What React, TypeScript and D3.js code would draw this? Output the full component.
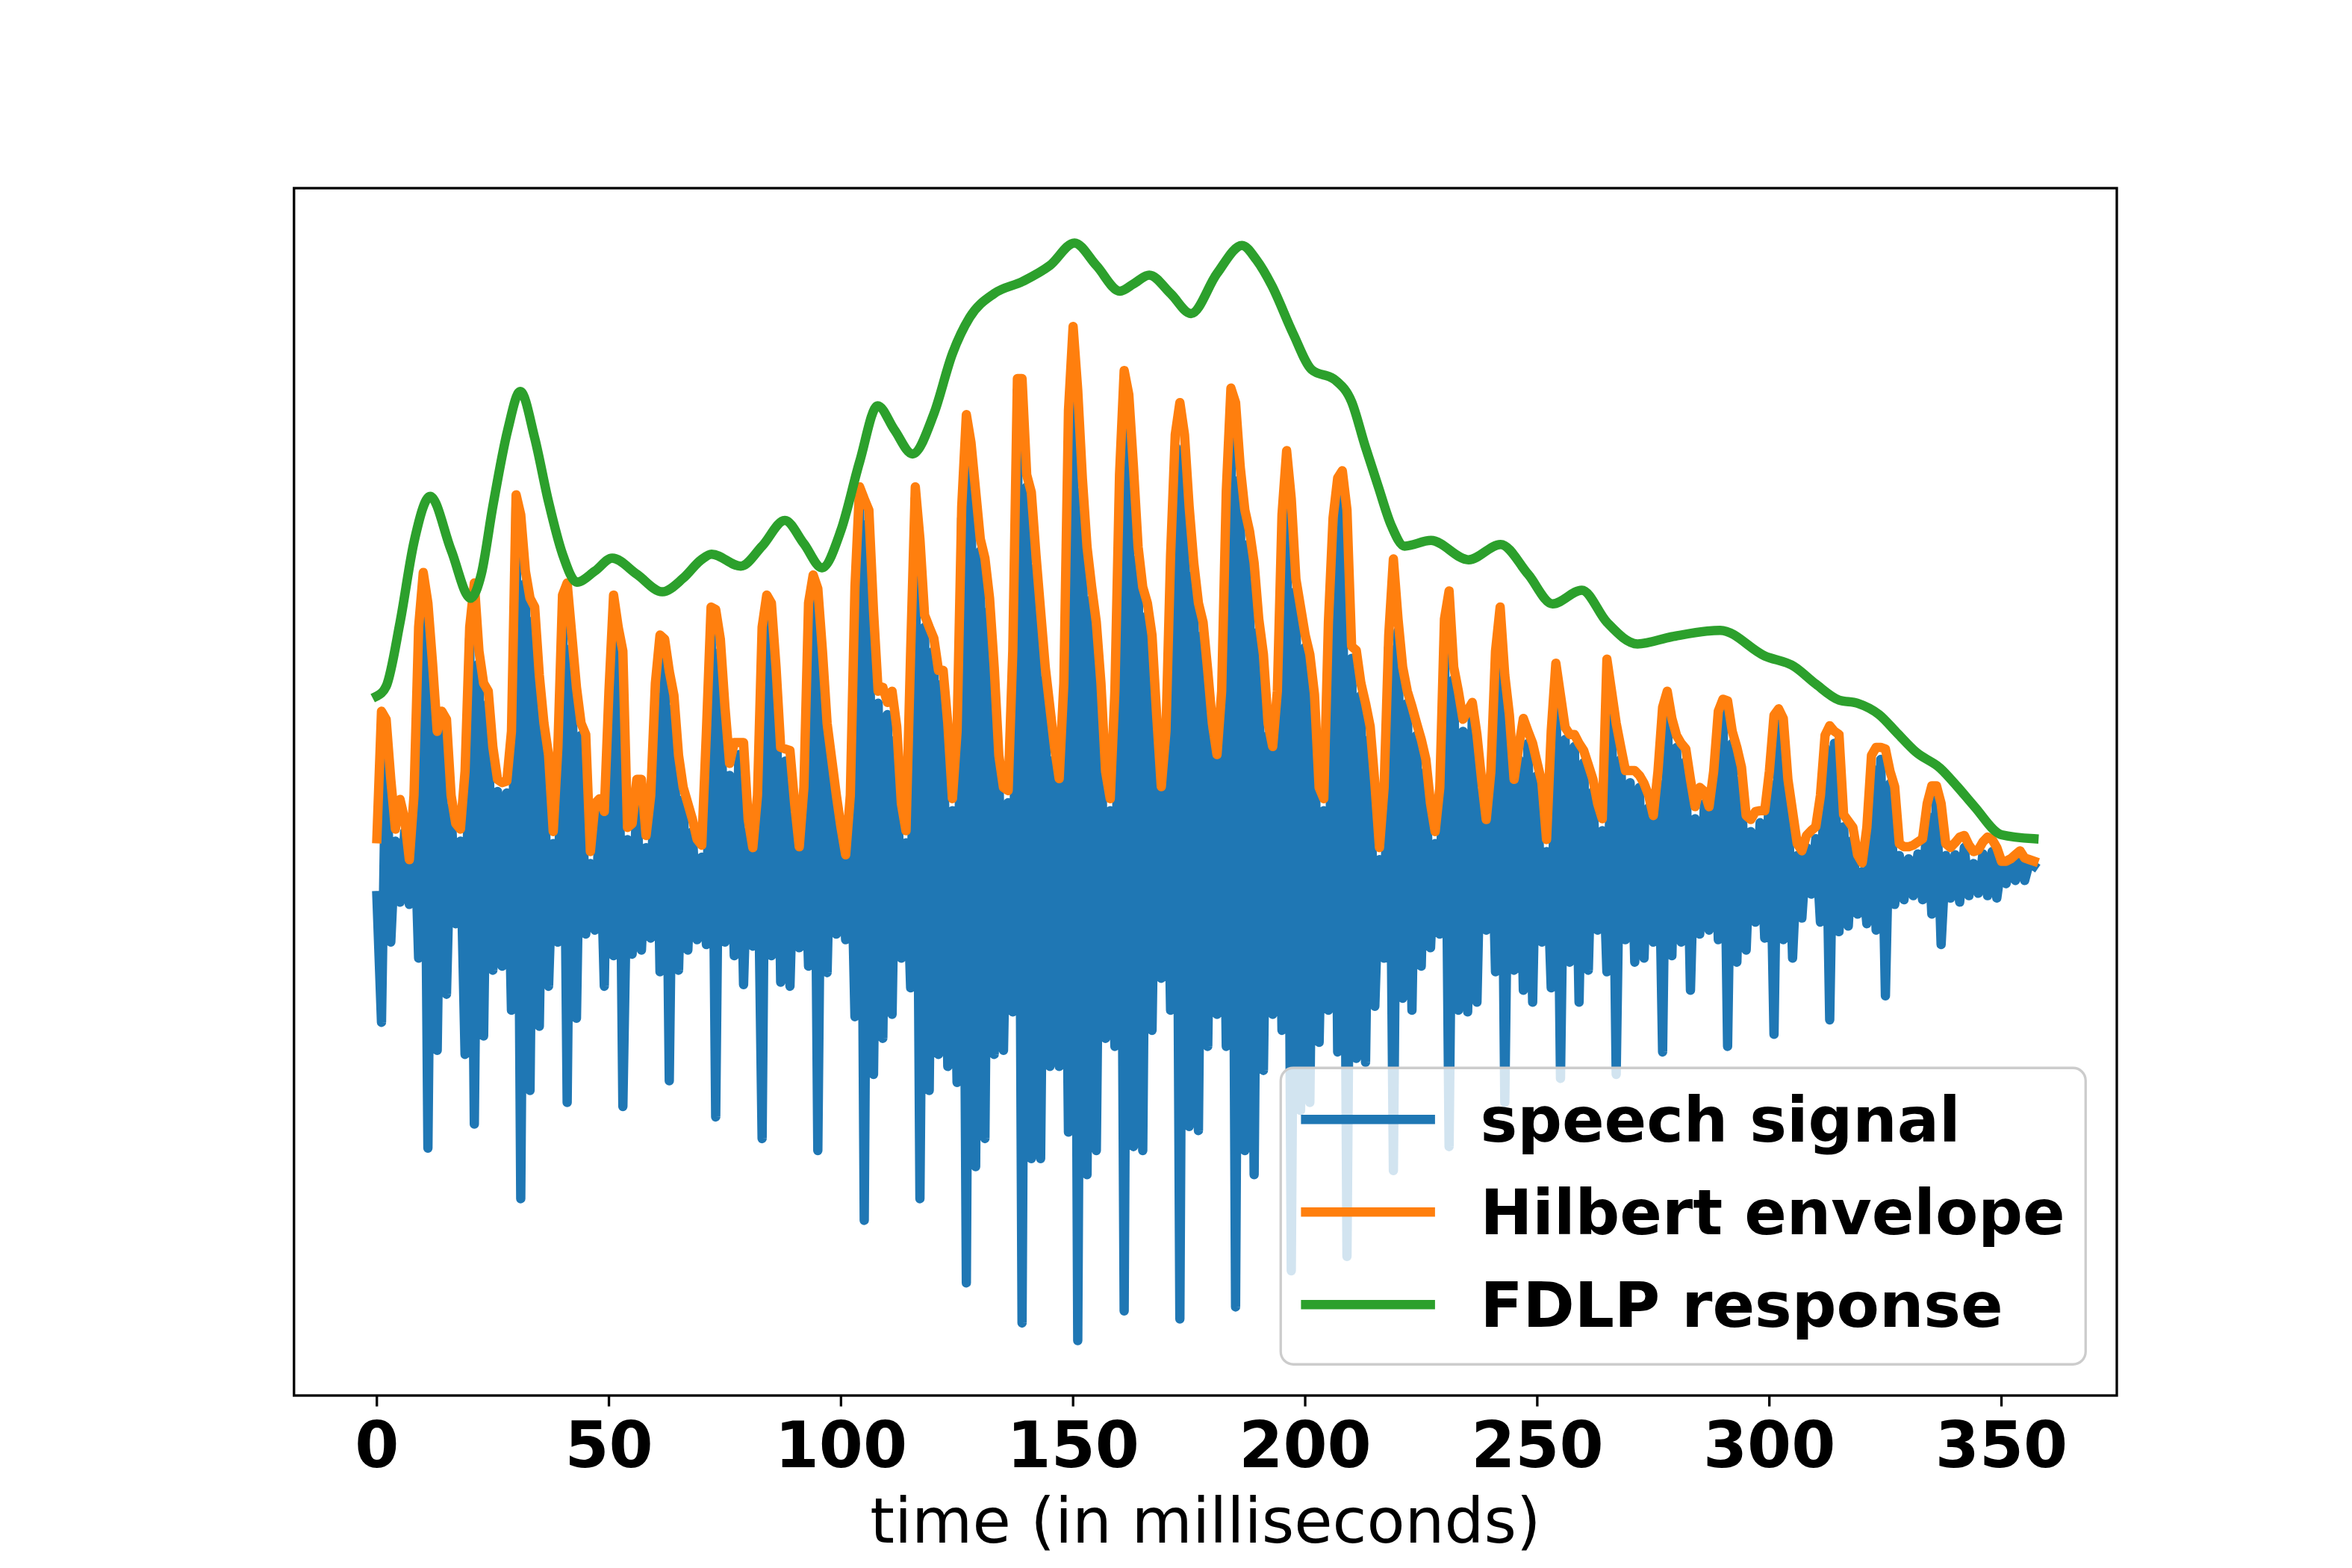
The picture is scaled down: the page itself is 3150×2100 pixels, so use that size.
import * as d3 from "d3";

// figure is 3150 x 2100 px, axes placed like matplotlib's default subplot
const W = 3150;
const H = 2100;
const axLeft = 393.75;
const axRight = 2835;
const axTop = 252;
const axBottom = 1869;

// one sample per millisecond, t = 0 .. 357 ms (amplitude x 1000)
const speech = [
  -5, -163, 200, -63, 63, -13, 75, -16, 105, -83,
  383, -320, 270, -198, 210, -128, 105, -40, 63, -203,
  315, -290, 285, -180, 235, -98, 125, -93, 123, -148,
  480, -383, 385, -248, 340, -168, 195, -118, 60, -63,
  355, -263, 305, -158, 195, -53, 35, -48, 101, -118,
  235, -80, 315, -268, 65, -78, 125, -73, 55, -58,
  245, -100, 300, -236, 230, -98, 115, -73, 75, -60,
  43, -66, 340, -281, 300, -63, 145, -80, 171, -116,
  75, -68, 105, -308, 355, -80, 265, -113, 163, -118,
  95, -70, 115, -93, 380, -323, 285, -101, 150, -53,
  65, -60, 105, -156, 490, -410, 461, -228, 235, -183,
  221, -153, 191, -83, 61, -120, 490, -383, 330, -248,
  301, -203, 261, -218, 101, -238, 465, -488, 545, -343,
  425, -308, 351, -203, 155, -198, 111, -150, 625, -538,
  505, -333, 405, -333, 265, -218, 165, -218, 245, -300,
  690, -560, 500, -353, 365, -323, 245, -183, 101, -193,
  505, -523, 605, -318, 415, -323, 345, -173, 205, -108,
  185, -148, 555, -533, 555, -293, 395, -298, 321, -193,
  195, -153, 235, -193, 613, -518, 515, -323, 435, -353,
  325, -223, 195, -153, 235, -173, 535, -473, 375, -273,
  305, -263, 231, -188, 101, -148, 451, -200, 510, -455,
  291, -208, 245, -213, 191, -143, 40, -83, 305, -348,
  325, -133, 235, -148, 195, -93, 150, -70, 60, -53,
  325, -318, 265, -148, 200, -150, 221, -138, 125, -48,
  135, -100, 340, -263, 205, -98, 165, -123, 185, -138,
  145, -63, 50, -120, 270, -233, 190, -88, 181, -138,
  161, -98, 125, -48, 76, -100, 235, -228, 165, -60,
  136, -88, 130, -83, 105, -63, 135, -200, 235, -80,
  180, -63, 163, -123, 91, -53, 110, -48, 135, -60,
  225, -193, 185, -88, 140, -73, 75, -38, 86, -58,
  135, -178, 213, -60, 125, -83, 45, -33, 55, -3,
  66, -38, 180, -160, 185, -50, 81, -43, 65, -28,
  25, -40, 155, -48, 165, -130, 135, -16, 45, -10,
  41, -5, 47, -10, 95, -28, 117, -66, 45, -8,
  46, -13, 55, -5, 35, -2, 47, -5, 50, -8,
  35, 10, 36, 14, 41, 14, 36, 32,
];

const hilbert = [
  66, 225, 215, 140, 78, 115, 90, 40, 120, 330,
  398, 360, 285, 200, 225, 215, 120, 85, 78, 150,
  330, 385, 300, 260, 250, 180, 140, 136, 138, 200,
  495, 470, 400, 366, 355, 270, 210, 170, 75, 180,
  370, 385, 320, 255, 210, 196, 50, 110, 116, 100,
  250, 370, 330, 300, 80, 85, 140, 140, 70, 120,
  260, 320, 315, 275, 245, 170, 130, 110, 90, 65,
  58, 200, 355, 352, 315, 230, 160, 186, 186, 186,
  90, 55, 120, 330, 370, 360, 280, 180, 178, 176,
  110, 56, 130, 360, 395, 378, 300, 210, 165, 120,
  80, 46, 120, 380, 505, 490, 476, 350, 250, 255,
  236, 250, 206, 110, 76, 300, 505, 440, 345, 330,
  316, 276, 276, 210, 116, 200, 480, 595, 560, 500,
  440, 416, 366, 280, 170, 130, 126, 300, 640, 640,
  520, 498, 420, 350, 280, 230, 180, 141, 260, 600,
  705, 625, 515, 430, 380, 336, 260, 150, 116, 250,
  520, 650, 620, 530, 430, 380, 360, 320, 220, 131,
  200, 420, 570, 610, 570, 480, 410, 360, 336, 276,
  210, 171, 250, 500, 628, 610, 530, 476, 450, 410,
  340, 296, 210, 181, 250, 470, 550, 490, 390, 355,
  320, 296, 246, 130, 116, 336, 466, 516, 525, 476,
  306, 301, 260, 235, 206, 136, 55, 130, 320, 415,
  340, 280, 250, 231, 210, 190, 165, 110, 75, 130,
  340, 375, 280, 250, 215, 226, 236, 196, 140, 90,
  150, 300, 355, 270, 220, 140, 180, 216, 200, 185,
  160, 136, 65, 200, 285, 245, 205, 196, 196, 185,
  176, 158, 140, 110, 91, 290, 250, 210, 180, 151,
  151, 151, 145, 135, 120, 95, 150, 230, 250, 216,
  195, 185, 178, 140, 106, 130, 125, 106, 150, 225,
  240, 238, 200, 180, 155, 95, 90, 100, 101, 101,
  150, 220, 228, 216, 140, 100, 60, 51, 70, 76,
  81, 120, 195, 207, 200, 196, 96, 88, 80, 46,
  36, 80, 170, 180, 180, 178, 150, 131, 60, 56,
  56, 58, 62, 66, 110, 132, 132, 110, 60, 55,
  61, 68, 70, 58, 50, 52, 62, 68, 65, 55,
  38, 38, 41, 46, 51, 42, 40, 38,
];

const fdlpTime = [
  0, 2, 5, 8, 11.5, 16, 20.2, 22.5, 25, 28.2,
  30.9, 34, 37, 40, 43.1, 47, 50.7, 56, 61.5, 66,
  69.9, 72.1, 78.4, 83, 87.9, 92, 95.9, 100, 104, 107.9,
  111.5, 115.4, 120, 124, 127.7, 133, 139.1, 145, 150.3, 155,
  160.1, 163, 166.4, 171, 175.4, 181, 186.4, 189.5, 192.8, 197.4,
  201.4, 206.5, 210, 212.9, 215.7, 218.6, 221.4, 227.1, 235.2, 242.1,
  248, 253.3, 259.6, 265, 271.6, 279, 289.4, 299, 305.3, 310,
  315, 319, 323.6, 327.5, 331.6, 336.8, 340.5, 344.2, 350, 357,
];
const fdlpValue = [
  244, 256, 336, 436, 493, 426, 366, 396, 481, 576,
  624, 566, 486, 421, 386, 400, 416, 396, 374, 391,
  414, 421, 406, 431, 463, 434, 404, 451, 536, 606,
  576, 546, 596, 671, 716, 746, 761, 781, 809, 781,
  749, 758, 769, 746, 721, 771, 806, 788, 756, 696,
  651, 638, 611, 556, 506, 456, 431, 438, 414, 433,
  396, 359, 376, 336, 309, 318, 326, 294, 281, 259,
  239, 235, 221, 198, 174, 154, 131, 106, 71, 66,
];

const xTicks = [0, 50, 100, 150, 200, 250, 300, 350];
const seriesNames = ["speech signal", "Hilbert envelope", "FDLP response"];
const seriesColors = ["#1f77b4", "#ff7f0e", "#2ca02c"];

const tickFont = 85;
const fontSize = 83.5;
const lineW = 12.5;

export default function App() {
  const tMax = speech.length - 1;
  const xPad = tMax * 0.05;
  const x = d3.scaleLinear([-xPad, tMax + xPad], [axLeft, axRight]);

  const all = [...speech, ...hilbert, ...fdlpValue];
  const [lo, hi] = d3.extent(all) as [number, number];
  const yPad = (hi - lo) * 0.05;
  const y = d3.scaleLinear([lo - yPad, hi + yPad], [axBottom, axTop]);

  const sampled = d3
    .line<number>()
    .x((_, i) => x(i))
    .y((d) => y(d));
  const smooth = d3
    .line<number>()
    .x((_, i) => x(fdlpTime[i]))
    .y((d) => y(d))
    .curve(d3.curveMonotoneX);

  const paths = [sampled(speech), sampled(hilbert), smooth(fdlpValue)];

  // legend in the lower right corner, like loc="best" picked it
  const legW = 1078;
  const legH = 397;
  const legX = axRight - fontSize * 0.5 - legW;
  const legY = axBottom - fontSize * 0.5 - legH;
  const rowGap = 124;
  const firstRow = legY + 69;
  const handleX = legX + fontSize * 0.4;
  const handleLen = fontSize * 2;
  const textX = handleX + handleLen + fontSize * 0.8;

  return (
    <svg
      width={W}
      height={H}
      style={{ position: "absolute", left: 0, top: 0, background: "white" }}
      fontFamily="DejaVu Sans, sans-serif"
    >
      <defs>
        <clipPath id="plot-area">
          <rect x={axLeft} y={axTop} width={axRight - axLeft} height={axBottom - axTop} />
        </clipPath>
      </defs>
      <rect width={W} height={H} fill="white" />
      <g clipPath="url(#plot-area)" fill="none" strokeLinejoin="round" strokeLinecap="square">
        {paths.map((d, i) => (
          <path key={i} d={d || undefined} stroke={seriesColors[i]} strokeWidth={lineW} />
        ))}
      </g>
      <rect
        x={axLeft}
        y={axTop}
        width={axRight - axLeft}
        height={axBottom - axTop}
        fill="none"
        stroke="black"
        strokeWidth={3.3}
      />
      <g>
        {xTicks.map((t) => (
          <g key={t} transform={`translate(${x(t)},${axBottom})`}>
            <line y2={14.6} stroke="black" strokeWidth={3.3} />
            <text y={96} textAnchor="middle" fontSize={tickFont} fontWeight="bold">
              {t}
            </text>
          </g>
        ))}
      </g>
      <text x={(axLeft + axRight) / 2} y={2066} textAnchor="middle" fontSize={fontSize}>
        time (in milliseconds)
      </text>
      <g>
        <rect
          x={legX}
          y={legY}
          width={legW}
          height={legH}
          rx={17}
          fill="white"
          fillOpacity={0.8}
          stroke="#cccccc"
          strokeWidth={3.3}
        />
        {seriesNames.map((name, i) => (
          <g key={name} transform={`translate(0,${firstRow + i * rowGap})`}>
            <line
              x1={handleX}
              x2={handleX + handleLen}
              stroke={seriesColors[i]}
              strokeWidth={lineW}
              strokeLinecap="square"
            />
            <text x={textX} y={30} fontSize={fontSize} fontWeight="bold">
              {name}
            </text>
          </g>
        ))}
      </g>
    </svg>
  );
}
